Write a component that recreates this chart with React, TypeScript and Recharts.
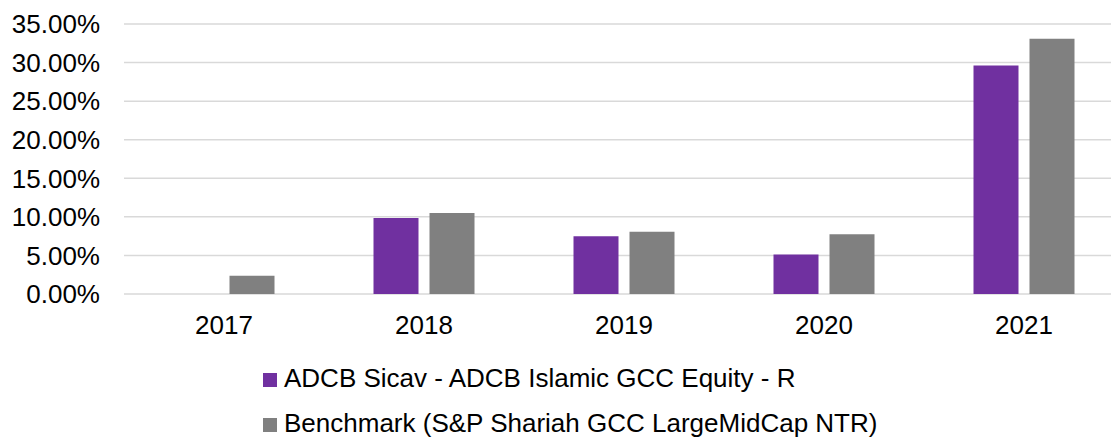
import { BarChart, Bar, XAxis, YAxis, CartesianGrid, Legend } from "recharts";

// ---------------------------------------------------------------------------
// Data (annual returns, %)
// ---------------------------------------------------------------------------

const years = ["2017", "2018", "2019", "2020", "2021"];
const fundReturns: (number | null)[] = [null, 9.85, 7.47, 5.13, 29.63];
const benchReturns = [2.36, 10.49, 8.08, 7.73, 33.09];
const yTicks = [0, 5, 10, 15, 20, 25, 30, 35];

const FUND_NAME = "ADCB Sicav - ADCB Islamic GCC Equity - R";
const BENCH_NAME = "Benchmark (S&P Shariah GCC LargeMidCap NTR)";

const PURPLE = "#7030a0";
const GREY = "#808080";
const FONT = "'Liberation Sans', Arial, sans-serif";

const data = years.map((y, i) => ({
  year: y,
  fund: fundReturns[i],
  bench: benchReturns[i],
}));

// ---------------------------------------------------------------------------
// Legend: two stacked rows, left-aligned under the plot
// ---------------------------------------------------------------------------

function StackedLegend() {
  const rows = [
    { label: FUND_NAME, color: PURPLE, top: 41 },
    { label: BENCH_NAME, color: GREY, top: 86 },
  ];
  return (
    <div style={{ position: "relative", height: 114, width: "100%" }}>
      {rows.map((r) => (
        <div
          key={r.label}
          style={{
            position: "absolute",
            left: 263,
            top: r.top,
            height: 26,
            lineHeight: "26px",
            fontSize: 26,
            fontFamily: FONT,
            color: "#000",
            whiteSpace: "nowrap",
          }}
        >
          <span
            style={{
              position: "absolute",
              left: 0,
              top: 8,
              width: 14,
              height: 14,
              background: r.color,
            }}
          />
          <span style={{ position: "absolute", left: 21, top: 0 }}>{r.label}</span>
        </div>
      ))}
    </div>
  );
}

// ---------------------------------------------------------------------------
// Component
// ---------------------------------------------------------------------------

export default function App() {
  return (
    <div
      style={{
        position: "absolute",
        left: 0,
        top: 0,
        width: 1111,
        height: 438,
        overflow: "hidden",
        background: "#fff",
      }}
    >
      <BarChart
        width={1124}
        height={438}
        data={data}
        margin={{ top: 24, right: 0, left: 0, bottom: 0 }}
        barCategoryGap="24.75%"
        barGap={11}
      >
        <CartesianGrid vertical={false} stroke="#d9d9d9" strokeWidth={1.5} />
        <XAxis
          dataKey="year"
          height={30}
          axisLine={false}
          tickLine={false}
          tickMargin={16}
          tick={{ fill: "#000", fontSize: 26, fontFamily: FONT }}
        />
        <YAxis
          width={124}
          domain={[0, 35]}
          ticks={yTicks}
          axisLine={false}
          tickLine={false}
          tickMargin={18}
          tickFormatter={(v: number) => v.toFixed(2) + "%"}
          tick={{ fill: "#000", fontSize: 26, fontFamily: FONT }}
        />
        <Legend
          verticalAlign="bottom"
          content={<StackedLegend />}
          wrapperStyle={{ left: 0, width: 1124 }}
        />
        <Bar dataKey="fund" name={FUND_NAME} fill={PURPLE} isAnimationActive={false} />
        <Bar dataKey="bench" name={BENCH_NAME} fill={GREY} isAnimationActive={false} />
      </BarChart>
    </div>
  );
}
